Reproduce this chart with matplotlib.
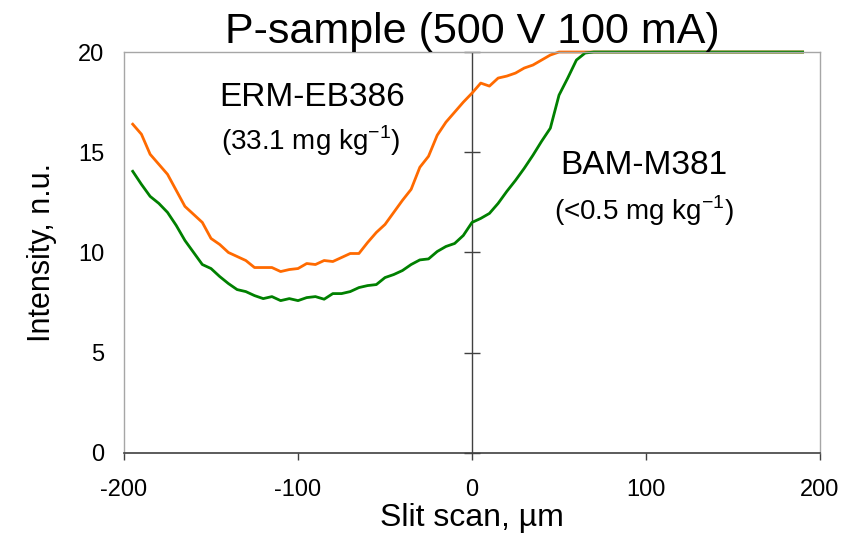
import numpy as np
import matplotlib
matplotlib.use("Agg")
import matplotlib.pyplot as plt

plt.rcParams['font.family'] = ['Liberation Sans', 'DejaVu Sans']
plt.rcParams['axes.unicode_minus'] = False

# slit scan positions, um
x_um = np.arange(-195, 195, 5)

# ERM-EB386 (orange)
erm = [16.4, 15.9, 14.9, 14.4, 13.9, 13.1, 12.3, 11.9, 11.5, 10.7,
       10.4, 10.0, 9.8, 9.6, 9.25, 9.25, 9.25, 9.05, 9.15, 9.2,
       9.45, 9.4, 9.6, 9.55, 9.75, 9.95, 9.95, 10.5, 11.0, 11.4,
       12.0, 12.6, 13.15, 14.25, 14.8, 15.85, 16.5, 17.0, 17.5, 17.95,
       18.45, 18.3, 18.7, 18.8, 18.95, 19.2, 19.35, 19.6, 19.85, 20.0,
       20, 20, 20, 20, 20, 20, 20, 20, 20, 20,
       20, 20, 20, 20, 20, 20, 20, 20, 20, 20,
       20, 20, 20, 20, 20, 20, 20, 20]

# BAM-M381 (green)
bam = [14.05, 13.4, 12.8, 12.45, 12.0, 11.35, 10.6, 10.0, 9.4, 9.2,
       8.8, 8.45, 8.15, 8.05, 7.85, 7.7, 7.8, 7.6, 7.7, 7.6,
       7.75, 7.8, 7.67, 7.95, 7.95, 8.05, 8.25, 8.35, 8.4, 8.75,
       8.9, 9.1, 9.4, 9.63, 9.68, 10.05, 10.3, 10.45, 10.85, 11.5,
       11.7, 11.95, 12.45, 13.05, 13.6, 14.2, 14.85, 15.55, 16.2, 17.85,
       18.7, 19.6, 19.95, 20, 20, 20, 20, 20, 20, 20,
       20, 20, 20, 20, 20, 20, 20, 20, 20, 20,
       20, 20, 20, 20, 20, 20, 20, 20]

xticks = [-200, -100, 0, 100, 200]
yticks = [0, 5, 10, 15, 20]

fig = plt.figure(figsize=(8.46, 5.39), dpi=100)
ax = fig.add_axes([0.1466, 0.1596, 0.8227, 0.7439])

ax.plot(x_um, erm, color='#ff6a00', lw=2.0, clip_on=False)
ax.plot(x_um, bam, color='#008000', lw=2.0, clip_on=False)

ax.set_xlim(-200, 200)
ax.set_ylim(0, 20)
ax.set_xticks(xticks)
ax.set_yticks(yticks)

# spines
for s in ['left', 'top', 'right']:
    ax.spines[s].set_color('#a6a6a6')
    ax.spines[s].set_linewidth(1.0)
ax.spines['bottom'].set_color('#404040')
ax.spines['bottom'].set_linewidth(1.2)
ax.tick_params(axis='x', direction='out', length=5, width=1, color='#404040',
               labelsize=17, pad=14)
ax.tick_params(axis='y', length=0, labelsize=17, pad=14)

# vertical axis at x = 0 with crossing ticks
ax.axvline(0, color='#404040', lw=1.0, zorder=1)
ax.plot(np.zeros(len(yticks)), yticks, ls='none', marker='_', ms=12,
        mew=1.0, color='#404040', clip_on=False, zorder=1)

ax.set_xlabel('Slit scan, µm', fontsize=23, labelpad=1.5)
ax.set_ylabel('Intensity, n.u.', fontsize=22, labelpad=15)
ax.set_title('P-sample (500 V 100 mA)', fontsize=31, pad=4)

ax.text(-92, 17.72, 'ERM-EB386', fontsize=24, ha='center', va='center')
ax.text(-93, 15.56, r'(33.1 mg kg$^{\mathregular{-1}}$)', fontsize=20,
        ha='center', va='center')
ax.text(99, 14.36, 'BAM-M381', fontsize=24, ha='center', va='center')
ax.text(99, 12.1, r'(<0.5 mg kg$^{\mathregular{-1}}$)', fontsize=20,
        ha='center', va='center')

fig.savefig('out.png', dpi=100)
